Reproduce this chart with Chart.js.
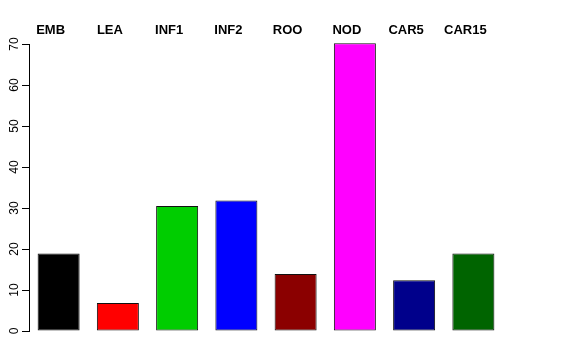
<!DOCTYPE html>
<html><head><meta charset="utf-8">
<script src="https://cdn.jsdelivr.net/npm/chart.js@4/dist/chart.umd.min.js"></script>
<style>html,body{margin:0;padding:0;background:#fff}#w{width:576px;height:360px}</style>
</head><body><div id="w"><canvas id="c"></canvas></div>
<script>
const categories = ["EMB","LEA","INF1","INF2","ROO","NOD","CAR5","CAR15"];
const values = [18.9, 6.8, 30.5, 31.8, 13.9, 70.2, 12.4, 18.9];
const barColors = ["#000000","#FF0000","#00CD00","#0000FF","#8B0000","#FF00FF","#00008B","#006400"];
const yTicks = [0,10,20,30,40,50,60,70];

new Chart(document.getElementById('c'), {
  type: 'bar',
  data: { labels: categories, datasets: [{ data: values, backgroundColor: barColors, borderColor: '#111', borderWidth: 1, borderSkipped: false, categoryPercentage: 1, barPercentage: 0.709, clip: false }] },
  options: {
    responsive: true, maintainAspectRatio: false, animation: false,
    layout: { padding: { top: 0, left: 0, right: 73, bottom: 29 } },
    plugins: { legend: { display: false }, tooltip: { enabled: false } },
    scales: {
      x: { position: 'top', grid: { display: false, drawTicks: false }, border: { display: false },
           ticks: { color: '#000', font: { family: 'Liberation Sans', size: 13, weight: 'bold' }, labelOffset: -8, padding: 6, maxRotation: 0, autoSkip: false },
           afterFit: s => { s.height = 44; } },
      y: { min: 0, max: 70, grid: { drawOnChartArea: false, tickLength: 7, color: '#000' }, border: { display: true, color: '#000' },
           afterBuildTicks: s => { s.ticks = yTicks.map(v => ({ value: v })); },
           ticks: { color: '#000', font: { family: 'Liberation Sans', size: 12 }, minRotation: 90, maxRotation: 90, crossAlign: 'center', padding: 1, autoSkip: false },
           afterFit: s => { s.width = 29; } }
    }
  }
});
</script></body></html>
